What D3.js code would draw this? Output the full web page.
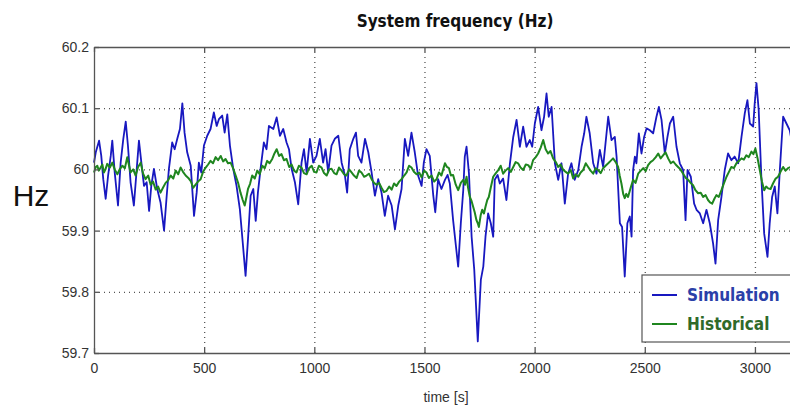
<!DOCTYPE html>
<html>
<head>
<meta charset="utf-8">
<script src="https://cdn.jsdelivr.net/npm/d3@7"></script>
<style>
  body { margin: 0; background: #fff; }
  svg { display: block; }
</style>
</head>
<body>
<script>
// values (time in s, frequency in Hz)
var simTime = [0, 8, 23, 33, 42, 53, 64, 76, 83, 94, 109, 121, 133, 144, 154, 166, 181, 194, 204, 215,
  227, 239, 250, 260, 272, 287, 302, 318, 330, 340, 355, 366, 378, 390, 401, 411, 423, 439, 454, 466,
  476, 487, 499, 514, 529, 544, 557, 567, 582, 593, 605, 617, 632, 647, 662, 675, 688, 699, 711, 723,
  734, 744, 756, 771, 783, 794, 814, 829, 844, 859, 874, 885, 897, 912, 927, 942, 953, 965, 980, 995,
  1010, 1025, 1040, 1051, 1063, 1078, 1093, 1109, 1124, 1139, 1149, 1161, 1177, 1189, 1199, 1214, 1230, 1245, 1260, 1275,
  1290, 1305, 1320, 1335, 1351, 1366, 1381, 1396, 1411, 1426, 1441, 1456, 1471, 1487, 1497, 1509, 1524, 1540, 1549, 1562,
  1577, 1593, 1605, 1615, 1630, 1643, 1653, 1665, 1676, 1683, 1691, 1702, 1714, 1726, 1742, 1756, 1767, 1777, 1789, 1801,
  1812, 1819, 1832, 1842, 1857, 1872, 1888, 1903, 1918, 1933, 1948, 1963, 1978, 1989, 2001, 2016, 2031, 2043, 2054, 2064,
  2077, 2092, 2107, 2122, 2137, 2152, 2167, 2182, 2198, 2213, 2225, 2235, 2250, 2266, 2281, 2296, 2311, 2334, 2349, 2364,
  2372, 2387, 2397, 2409, 2421, 2432, 2440, 2447, 2455, 2462, 2473, 2485, 2497, 2508, 2523, 2538, 2553, 2564, 2576, 2591,
  2603, 2614, 2629, 2644, 2659, 2674, 2685, 2694, 2709, 2724, 2735, 2750, 2765, 2780, 2795, 2810, 2821, 2833, 2848, 2863,
  2878, 2893, 2908, 2924, 2939, 2954, 2966, 2977, 2992, 2999, 3007, 3017, 3029, 3042, 3057, 3067, 3078, 3090, 3102, 3113,
  3128, 3143, 3158, 3175];
var simHz = [60.011, 60.028, 60.047, 60.022, 59.984, 59.952, 59.990, 60.022, 60.047, 59.995, 59.941, 60.011, 60.050, 60.078, 60.039, 59.979, 59.941, 60.001, 60.047, 60.011,
  59.973, 59.979, 59.932, 59.973, 60.001, 59.968, 59.946, 59.900, 59.957, 60.001, 60.044, 60.033, 60.050, 60.066, 60.108, 60.060, 60.028, 60.006, 59.924, 59.962,
  60.011, 59.995, 60.039, 60.055, 60.066, 60.093, 60.071, 60.082, 60.088, 60.060, 60.090, 60.039, 60.001, 59.973, 59.935, 59.881, 59.826, 59.886, 59.957, 59.968,
  59.916, 59.962, 60.001, 60.044, 60.033, 60.071, 60.066, 60.085, 60.055, 60.066, 60.044, 60.033, 60.001, 59.979, 59.943, 60.011, 60.033, 59.995, 60.050, 60.011,
  60.022, 60.050, 60.011, 60.033, 59.995, 60.039, 60.050, 60.055, 60.011, 59.990, 59.962, 60.033, 60.050, 60.060, 60.022, 60.011, 60.050, 60.028, 59.995, 59.957,
  59.984, 59.962, 59.924, 59.957, 59.941, 59.902, 59.941, 59.968, 60.050, 60.022, 60.060, 60.028, 59.990, 59.973, 60.011, 60.033, 60.022, 59.957, 59.930, 59.984,
  59.968, 59.983, 59.991, 59.977, 59.917, 59.874, 59.841, 59.912, 59.966, 60.021, 60.037, 59.993, 59.890, 59.836, 59.719, 59.820, 59.841, 59.890, 59.928, 59.912,
  59.890, 59.983, 59.991, 59.977, 59.985, 59.950, 60.010, 60.053, 60.081, 60.037, 60.070, 60.037, 60.048, 60.037, 60.075, 60.102, 60.064, 60.086, 60.124, 60.086,
  60.102, 60.010, 59.983, 60.010, 59.944, 59.993, 60.010, 59.983, 59.999, 60.037, 60.059, 60.086, 60.059, 60.010, 59.993, 60.032, 60.004, 60.086, 60.048, 60.053,
  60.021, 59.912, 59.906, 59.825, 59.912, 59.923, 59.890, 59.999, 60.021, 60.010, 60.059, 60.026, 60.053, 60.067, 60.064, 60.059, 60.086, 60.102, 60.081, 60.026,
  60.053, 60.075, 60.086, 60.037, 60.010, 59.999, 59.917, 59.999, 59.988, 59.944, 59.934, 59.928, 59.912, 59.934, 59.912, 59.879, 59.846, 59.917, 59.955, 59.999,
  60.026, 60.015, 60.021, 60.010, 60.053, 60.092, 60.113, 60.075, 60.070, 60.108, 60.141, 60.097, 59.988, 59.895, 59.857, 59.912, 59.955, 59.972, 59.928, 59.999,
  60.086, 60.075, 60.064, 60.030];

var histTime = [0, 8, 15, 22, 30, 38, 45, 52, 60, 72, 83, 94, 106, 118, 129, 140, 151, 158, 166, 178,
  189, 200, 212, 223, 234, 246, 257, 268, 280, 291, 302, 313, 325, 336, 348, 360, 371, 382, 393, 404,
  416, 428, 439, 450, 461, 472, 484, 495, 507, 518, 529, 540, 552, 563, 575, 586, 597, 608, 620, 631,
  643, 654, 665, 675, 684, 692, 699, 708, 718, 730, 741, 752, 764, 775, 786, 797, 809, 819, 829, 840,
  851, 862, 874, 886, 897, 908, 919, 930, 942, 953, 965, 976, 988, 999, 1010, 1021, 1033, 1044, 1056, 1067,
  1078, 1090, 1101, 1112, 1124, 1135, 1146, 1158, 1169, 1180, 1192, 1203, 1214, 1226, 1237, 1248, 1260, 1271, 1282, 1294,
  1305, 1316, 1328, 1340, 1351, 1362, 1373, 1385, 1396, 1408, 1419, 1430, 1441, 1452, 1464, 1476, 1487, 1498, 1509, 1520,
  1532, 1544, 1555, 1566, 1577, 1585, 1593, 1602, 1611, 1620, 1630, 1642, 1653, 1665, 1676, 1684, 1691, 1698, 1706, 1714,
  1721, 1728, 1736, 1742, 1747, 1755, 1762, 1770, 1777, 1785, 1792, 1802, 1812, 1824, 1835, 1846, 1857, 1868, 1880, 1892,
  1903, 1914, 1925, 1936, 1948, 1960, 1971, 1982, 1993, 2005, 2016, 2028, 2039, 2050, 2061, 2072, 2084, 2096, 2107, 2118,
  2130, 2141, 2152, 2164, 2175, 2186, 2198, 2209, 2220, 2232, 2243, 2254, 2266, 2277, 2288, 2300, 2311, 2322, 2334, 2345,
  2356, 2368, 2379, 2386, 2394, 2402, 2409, 2416, 2424, 2436, 2447, 2458, 2470, 2482, 2493, 2504, 2515, 2526, 2538, 2550,
  2561, 2572, 2583, 2594, 2606, 2618, 2629, 2640, 2651, 2662, 2674, 2686, 2697, 2708, 2719, 2730, 2742, 2754, 2765, 2776,
  2787, 2796, 2806, 2816, 2825, 2836, 2848, 2860, 2871, 2882, 2893, 2904, 2916, 2928, 2939, 2950, 2961, 2972, 2984, 2993,
  3002, 3012, 3022, 3032, 3042, 3051, 3060, 3071, 3082, 3094, 3105, 3116, 3128, 3139, 3150, 3162, 3173];
var histHz = [59.995, 60.004, 60.006, 59.998, 60.003, 60.008, 59.995, 60.000, 60.009, 60.003, 60.011, 60.000, 59.992, 60.001, 60.006, 60.002, 60.020, 60.008, 59.995, 60.000,
  59.990, 60.004, 60.011, 59.993, 59.984, 59.990, 59.975, 59.980, 59.967, 59.972, 59.962, 59.970, 59.978, 59.982, 59.990, 59.985, 59.998, 59.992, 60.003, 59.996,
  59.990, 59.986, 59.981, 59.970, 59.975, 59.980, 59.984, 59.996, 60.003, 60.008, 60.014, 60.010, 60.020, 60.015, 60.022, 60.013, 60.017, 60.010, 60.011, 60.002,
  59.990, 59.978, 59.962, 59.950, 59.941, 59.955, 59.968, 59.976, 59.990, 59.985, 59.998, 59.992, 60.006, 60.002, 60.014, 60.010, 60.017, 60.026, 60.033, 60.022,
  60.025, 60.015, 60.017, 60.004, 60.008, 59.998, 59.995, 60.006, 60.003, 59.994, 59.992, 60.002, 60.006, 59.996, 59.995, 60.006, 60.003, 59.994, 59.990, 60.000,
  60.001, 59.994, 59.992, 60.003, 59.998, 59.992, 59.990, 60.000, 59.995, 59.990, 59.986, 59.998, 59.995, 59.988, 59.990, 59.993, 59.984, 59.978, 59.975, 59.978,
  59.970, 59.963, 59.965, 59.972, 59.967, 59.977, 59.973, 59.980, 59.984, 59.990, 59.995, 60.006, 60.003, 59.996, 59.992, 59.995, 59.987, 59.998, 59.995, 59.986,
  59.990, 59.980, 59.984, 59.995, 59.990, 60.000, 60.010, 60.004, 60.002, 59.990, 59.991, 59.975, 59.966, 59.978, 59.983, 59.975, 59.988, 59.970, 59.955, 59.948,
  59.939, 59.930, 59.917, 59.912, 59.906, 59.925, 59.934, 59.928, 59.939, 59.950, 59.955, 59.972, 59.988, 59.994, 59.999, 60.006, 59.993, 59.998, 60.002, 59.996,
  60.004, 60.012, 60.010, 60.003, 59.999, 60.008, 60.007, 60.001, 60.015, 60.020, 60.026, 60.036, 60.048, 60.033, 60.026, 60.030, 60.018, 60.012, 60.004, 60.008,
  59.999, 59.996, 59.993, 59.999, 59.985, 59.992, 59.988, 59.995, 59.999, 60.010, 60.004, 59.998, 59.993, 60.002, 59.999, 59.994, 60.002, 60.006, 60.010, 60.014,
  60.018, 60.012, 60.004, 59.990, 59.977, 59.960, 59.953, 59.960, 59.955, 59.970, 59.983, 59.978, 59.993, 59.998, 60.002, 59.997, 60.007, 60.012, 60.015, 60.020,
  60.026, 60.018, 60.023, 60.028, 60.018, 60.010, 60.013, 60.008, 60.004, 60.000, 59.993, 59.986, 59.983, 59.978, 59.974, 59.966, 59.961, 59.962, 59.955, 59.958,
  59.950, 59.946, 59.944, 59.952, 59.958, 59.955, 59.966, 59.978, 59.988, 59.996, 60.004, 60.002, 60.010, 60.014, 60.018, 60.016, 60.023, 60.020, 60.029, 60.025,
  60.034, 60.018, 59.999, 59.980, 59.966, 59.972, 59.969, 59.968, 59.977, 59.985, 59.988, 59.996, 60.004, 59.998, 60.002, 60.004, 60.000];

var xTicks = [0, 500, 1000, 1500, 2000, 2500, 3000];
var yTicks = [59.7, 59.8, 59.9, 60, 60.1, 60.2];
var seriesNames = ["Simulation", "Historical"];

var W = 790, H = 408;
var margin = {top: 47, right: -9, bottom: 55, left: 94};
var width = W - margin.left - margin.right,
    height = H - margin.top - margin.bottom;

var svg = d3.select("body")
  .append("svg")
    .attr("width", W)
    .attr("height", H)
    .style("font-family", "'Liberation Sans', Arial, sans-serif");

var g = svg.append("g")
    .attr("transform", "translate(" + margin.left + "," + margin.top + ")");

var x = d3.scaleLinear().domain([0, 3200]).range([0, width]);
var y = d3.scaleLinear().domain([59.7, 60.2]).range([height, 0]);

// dotted grid
g.append("g")
    .attr("transform", "translate(0," + height + ")")
    .call(d3.axisBottom(x).tickValues(xTicks.slice(1)).tickSize(-height).tickFormat(""))
    .call(function(s) { s.select(".domain").remove(); })
    .selectAll("line")
      .attr("stroke", "#d2d2d2")
      .attr("stroke-dasharray", "1,4");
g.append("g")
    .call(d3.axisLeft(y).tickValues(yTicks.slice(1, -1)).tickSize(-width).tickFormat(""))
    .call(function(s) { s.select(".domain").remove(); })
    .selectAll("line")
      .attr("stroke", "#d2d2d2")
      .attr("stroke-dasharray", "1,4");

// lines
var line = d3.line()
    .x(function(d) { return x(d[0]); })
    .y(function(d) { return y(d[1]); });

var simData = simTime.map(function(t, i) { return [t, simHz[i]]; });
var histData = histTime.map(function(t, i) { return [t, histHz[i]]; });

g.append("path")
    .datum(simData)
    .attr("fill", "none")
    .attr("stroke", "#1818c0")
    .attr("stroke-width", 1.8)
    .attr("stroke-linejoin", "round")
    .attr("d", line);

g.append("path")
    .datum(histData)
    .attr("fill", "none")
    .attr("stroke", "#1f861f")
    .attr("stroke-width", 2)
    .attr("stroke-linejoin", "round")
    .attr("d", line);

// axes, ticks inward
g.append("g")
    .attr("transform", "translate(0," + height + ")")
    .call(d3.axisBottom(x).tickValues(xTicks).tickSize(-5).tickSizeOuter(0).tickPadding(10)
      .tickFormat(d3.format("d")));
g.append("g")
    .call(d3.axisTop(x).tickValues(xTicks).tickSize(-5).tickSizeOuter(0).tickFormat(""));
g.append("g")
    .call(d3.axisLeft(y).tickValues(yTicks).tickSize(-5).tickSizeOuter(0).tickPadding(5)
      .tickFormat(function(d) { return String(+d.toFixed(1)); }));

g.selectAll(".domain, .tick line").attr("stroke", "#555").attr("stroke-width", 1.3);
g.selectAll(".tick text").attr("fill", "#333").style("font-size", "14px");

// legend
var lg = g.append("g").attr("transform", "translate(" + (642 - margin.left) + "," + (275 - margin.top) + ")");
lg.append("rect")
    .attr("width", 170).attr("height", 67)
    .attr("fill", "#fff").attr("stroke", "#555").attr("stroke-width", 1.2);
var legColors = ["#1818c0", "#1f861f"];
var legText = ["#2a40a8", "#2f6a2a"];
seriesNames.forEach(function(name, i) {
  var yy = 20 + i * 29;
  lg.append("line")
      .attr("x1", 10).attr("x2", 35).attr("y1", yy).attr("y2", yy)
      .attr("stroke", legColors[i]).attr("stroke-width", 2);
  lg.append("text")
      .attr("x", 45).attr("y", yy + 6)
      .attr("fill", legText[i])
      .style("font-family", "'DejaVu Sans Condensed', sans-serif")
      .style("font-weight", "bold")
      .style("font-size", "17px")
      .text(name);
});

// titles
svg.append("text")
    .attr("x", 455).attr("y", 27)
    .attr("text-anchor", "middle")
    .style("font-family", "'DejaVu Sans Condensed', sans-serif")
    .style("font-weight", "bold")
    .style("font-size", "17px")
    .attr("fill", "#111")
    .text("System frequency (Hz)");

svg.append("text")
    .attr("x", 31).attr("y", 206)
    .attr("text-anchor", "middle")
    .style("font-size", "30px")
    .attr("fill", "#111")
    .text("Hz");

svg.append("text")
    .attr("x", 446).attr("y", 402)
    .attr("text-anchor", "middle")
    .style("font-size", "14px")
    .attr("fill", "#333")
    .text("time [s]");
</script>
</body>
</html>
